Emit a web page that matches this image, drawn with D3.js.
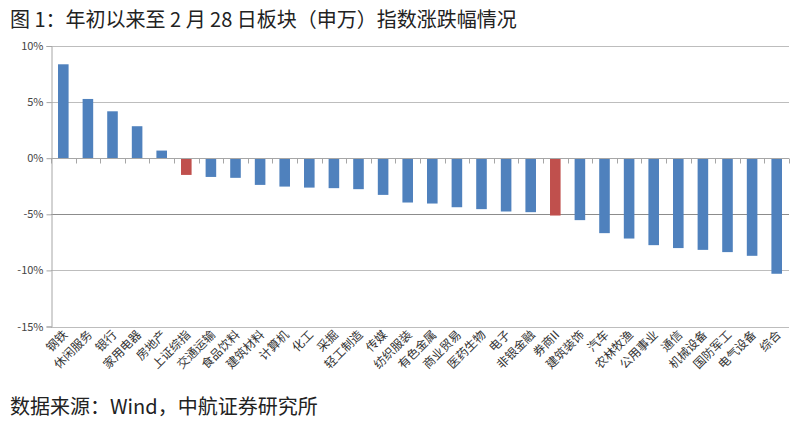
<!DOCTYPE html>
<html><head><meta charset="utf-8">
<script src="https://cdn.jsdelivr.net/npm/d3@7"></script>
<style>
body{margin:0;background:#fff;}
text{font-family:"Noto Sans CJK SC","Noto Sans",sans-serif;}
</style></head>
<body><svg id="c" width="800" height="425"></svg>
<script>
const categories = ["钢铁","休闲服务","银行","家用电器","房地产","上证综指","交通运输","食品饮料","建筑材料","计算机","化工","采掘","轻工制造","传媒","纺织服装","有色金属","商业贸易","医药生物","电子","非银金融","券商II","建筑装饰","汽车","农林牧渔","公用事业","通信","机械设备","国防军工","电气设备","综合"];
const values = [8.37,5.28,4.18,2.85,0.68,-1.49,-1.67,-1.75,-2.38,-2.53,-2.62,-2.67,-2.76,-3.27,-3.95,-4.04,-4.37,-4.54,-4.75,-4.81,-5.11,-5.52,-6.68,-7.16,-7.75,-8.01,-8.17,-8.37,-8.70,-10.3];
const highlighted = ["上证综指","券商II"];
const yTicks = [10,5,0,-5,-10,-15];
const title = "图 1：年初以来至 2 月 28 日板块（申万）指数涨跌幅情况";
const source = "数据来源：Wind，中航证券研究所";

const svg = d3.select("#c");
const pL = 51, pR = 789, pT = 46, pB = 326.5;
const x = d3.scaleBand().domain(categories).range([pL, pR]).paddingInner(0.57).paddingOuter(0.285);
const y = d3.scaleLinear().domain([-15,10]).range([pB, pT]);

svg.append("text").attr("x",10).attr("y",27).attr("font-size",20).attr("fill","#222").text(title);

// gridlines
svg.append("g").selectAll("line").data(yTicks.filter(d=>d!==0)).join("line")
  .attr("x1",pL).attr("x2",pR).attr("y1",d=>Math.round(y(d))+0.5).attr("y2",d=>Math.round(y(d))+0.5)
  .attr("stroke",d=>d===-5?"#8c8c8c":"#bdbdbd").attr("stroke-width",1);

// y axis
const ya = d3.axisLeft(y).tickValues(yTicks).tickFormat(d=>d+"%").tickSize(5).tickPadding(3);
const gy = svg.append("g").attr("transform",`translate(${pL+0.5},0)`).call(ya);
gy.select(".domain").attr("stroke","#a6a6a6");
gy.selectAll(".tick line").attr("stroke","#a6a6a6");
gy.selectAll(".tick text").attr("font-size",11).attr("fill","#444").attr("font-family","Carlito,Calibri,'Liberation Sans',sans-serif");

// bars
svg.append("g").selectAll("rect").data(categories).join("rect")
  .attr("x",(d)=>x(d)).attr("width",x.bandwidth())
  .attr("y",(d,i)=>y(Math.max(0,values[i])))
  .attr("height",(d,i)=>Math.abs(y(values[i])-y(0)))
  .attr("fill",d=>highlighted.includes(d)?"#C0504D":"#4F81BD");

// zero axis
const y0 = Math.round(y(0))+0.5;
svg.append("line").attr("x1",pL).attr("x2",pR).attr("y1",y0).attr("y2",y0).attr("stroke","#a6a6a6");
const step = x.step();
svg.append("g").selectAll("line").data(d3.range(categories.length+1)).join("line")
  .attr("x1",i=>Math.round(pL+i*step)+0.5).attr("x2",i=>Math.round(pL+i*step)+0.5)
  .attr("y1",y0).attr("y2",y0+5).attr("stroke","#a6a6a6");

// category labels
svg.append("g").selectAll("text").data(categories).join("text")
  .attr("transform",d=>`translate(${x(d)+x.bandwidth()/2+5},${pB+9}) rotate(-45)`)
  .attr("text-anchor","end").attr("font-size",12).attr("fill","#333").text(d=>d);

svg.append("text").attr("x",10).attr("y",414).attr("font-size",20).attr("fill","#222").text(source);
</script></body></html>
